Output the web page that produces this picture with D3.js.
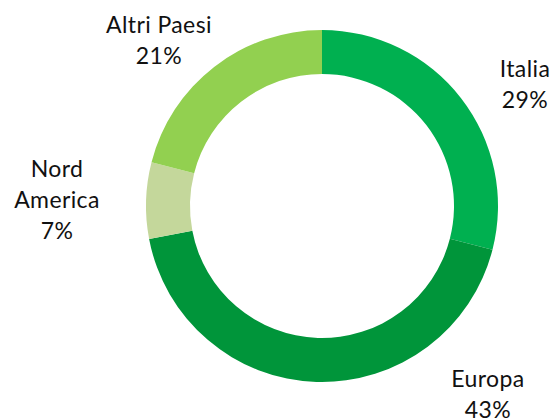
<!DOCTYPE html>
<html><head><meta charset="utf-8">
<script src="https://cdn.jsdelivr.net/npm/d3@7"></script>
<style>body{margin:0;background:#fff}svg{display:block}</style>
</head><body>
<script>
const categories = ["Italia", "Europa", "Nord America", "Altri Paesi"];
const values = [29, 43, 7, 21];
const colors = ["#00b050", "#00953a", "#c4d79b", "#92d050"];
// label layout (first-line baseline, centre x) and line breaks
const labelLines = [["Italia"], ["Europa"], ["Nord", "America"], ["Altri Paesi"]];
const labelPos = [[525, 77], [488, 387], [57, 177], [159, 33]];

const W = 550, H = 419, cx = 322, cy = 206, rOuter = 176, rInner = 132;
const svg = d3.select("body").append("svg").attr("width", W).attr("height", H);
const pie = d3.pie().sort(null).value(d => d.v);
const data = categories.map((c, i) => ({c, v: values[i], i}));
const arcs = pie(data);
const arc = d3.arc().innerRadius(rInner).outerRadius(rOuter);
const g = svg.append("g").attr("transform", `translate(${cx},${cy})`);
g.selectAll("path").data(arcs).join("path")
  .attr("d", arc).attr("fill", d => colors[d.data.i]);

const lh = 31;
arcs.forEach(d => {
  const i = d.data.i;
  const lines = labelLines[i].concat([d.data.v + "%"]);
  const t = svg.append("text")
    .attr("text-anchor", "middle")
    .attr("font-family", "Lato, 'Open Sans', sans-serif")
    .attr("font-size", 23).attr("letter-spacing", 0.4).attr("fill", "#111");
  lines.forEach((s, k) => {
    t.append("tspan").attr("x", labelPos[i][0]).attr("y", labelPos[i][1] + k * lh).text(s);
  });
});
</script>
</body></html>
